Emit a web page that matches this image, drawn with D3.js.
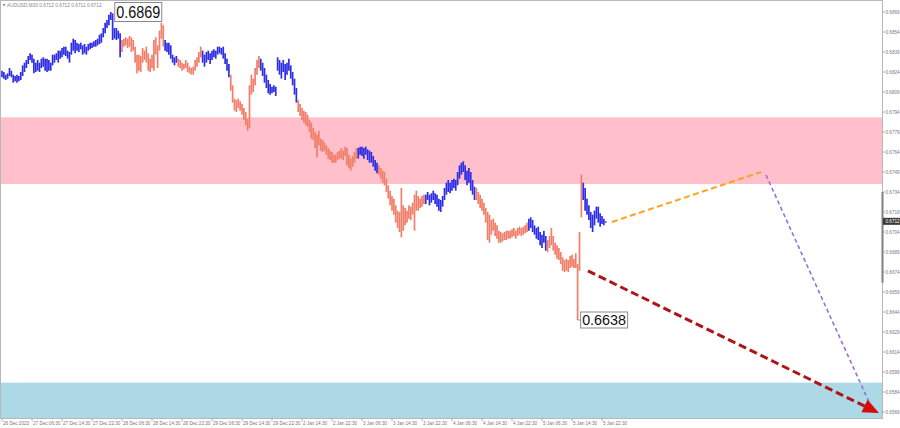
<!DOCTYPE html>
<html><head><meta charset="utf-8">
<script src="https://cdn.jsdelivr.net/npm/d3@7/dist/d3.min.js"></script>
<style>body{margin:0;background:#fff}svg{display:block}</style>
</head><body><svg id="chart" width="900" height="428"></svg>
<script>
const titleText = "AUDUSD,M30  0.6712 0.6712 0.6711 0.6712";

const highs = [
0.6825,0.6824,0.6822,0.6823,0.6827,0.6825,0.6822,0.6821,0.6822,0.6821,
0.6824,0.6829,0.6831,0.6833,0.6836,0.6838,0.6837,0.6834,0.6831,0.6833,
0.6831,0.6834,0.6835,0.6834,0.6834,0.6833,0.6831,0.6837,0.6837,0.6838,
0.6840,0.6840,0.6842,0.6843,0.6843,0.6840,0.6839,0.6846,0.6849,0.6848,
0.6846,0.6845,0.6846,0.6844,0.6845,0.6843,0.6845,0.6846,0.6846,0.6847,
0.6848,0.6849,0.6852,0.6853,0.6857,0.6861,0.6863,0.6867,0.6869,0.6868,
0.6857,0.6857,0.6855,0.6853,0.6848,0.6849,0.6850,0.6849,0.6851,0.6850,
0.6848,0.6843,0.6837,0.6837,0.6836,0.6842,0.6840,0.6843,0.6838,0.6834,
0.6837,0.6848,0.6850,0.6844,0.6855,0.6861,0.6859,0.6848,0.6846,0.6846,
0.6844,0.6837,0.6835,0.6836,0.6834,0.6833,0.6831,0.6830,0.6833,0.6831,
0.6828,0.6827,0.6828,0.6833,0.6835,0.6839,0.6843,0.6840,0.6837,0.6839,
0.6840,0.6838,0.6840,0.6841,0.6840,0.6843,0.6843,0.6842,0.6843,0.6838,
0.6834,0.6830,0.6822,0.6814,0.6804,0.6803,0.6804,0.6802,0.6800,0.6797,
0.6794,0.6789,0.6814,0.6822,0.6819,0.6827,0.6833,0.6836,0.6834,0.6831,
0.6827,0.6822,0.6818,0.6815,0.6813,0.6814,0.6813,0.6835,0.6833,0.6831,
0.6833,0.6830,0.6831,0.6834,0.6829,0.6824,0.6819,0.6812,0.6803,0.6800,
0.6797,0.6795,0.6794,0.6792,0.6788,0.6786,0.6782,0.6779,0.6777,0.6780,
0.6774,0.6773,0.6771,0.6769,0.6767,0.6765,0.6764,0.6762,0.6762,0.6764,
0.6765,0.6767,0.6765,0.6768,0.6767,0.6762,0.6759,0.6761,0.6764,0.6767,
0.6767,0.6768,0.6768,0.6767,0.6768,0.6766,0.6765,0.6764,0.6761,0.6758,
0.6756,0.6754,0.6752,0.6750,0.6749,0.6744,0.6739,0.6735,0.6731,0.6729,
0.6724,0.6720,0.6719,0.6737,0.6724,0.6722,0.6720,0.6724,0.6723,0.6726,
0.6732,0.6735,0.6731,0.6729,0.6731,0.6732,0.6732,0.6734,0.6732,0.6733,
0.6735,0.6733,0.6732,0.6729,0.6728,0.6731,0.6737,0.6741,0.6743,0.6741,
0.6743,0.6744,0.6743,0.6749,0.6754,0.6756,0.6757,0.6754,0.6750,0.6752,
0.6749,0.6743,0.6738,0.6737,0.6734,0.6732,0.6729,0.6726,0.6722,0.6719,
0.6717,0.6713,0.6714,0.6711,0.6709,0.6705,0.6704,0.6703,0.6704,0.6705,
0.6705,0.6705,0.6706,0.6707,0.6705,0.6707,0.6708,0.6707,0.6708,0.6709,
0.6711,0.6714,0.6715,0.6713,0.6709,0.6707,0.6708,0.6704,0.6702,0.6705,
0.6701,0.6698,0.6701,0.6707,0.6701,0.6696,0.6694,0.6692,0.6689,0.6685,
0.6683,0.6684,0.6683,0.6686,0.6687,0.6684,0.6688,0.6680,0.6704,0.6747,
0.6741,0.6737,0.6729,0.6724,0.6719,0.6717,0.6720,0.6723,0.6723,0.6718,
0.6716,0.6714,0.6712];

const lows = [
0.6820,0.6819,0.6818,0.6819,0.6821,0.6820,0.6816,0.6817,0.6816,0.6817,
0.6818,0.6821,0.6824,0.6827,0.6830,0.6833,0.6831,0.6823,0.6824,0.6825,
0.6824,0.6827,0.6828,0.6825,0.6824,0.6825,0.6825,0.6829,0.6831,0.6833,
0.6831,0.6834,0.6835,0.6837,0.6836,0.6834,0.6831,0.6837,0.6840,0.6838,
0.6840,0.6839,0.6841,0.6837,0.6838,0.6837,0.6840,0.6841,0.6842,0.6843,
0.6843,0.6844,0.6845,0.6846,0.6850,0.6853,0.6857,0.6859,0.6863,0.6848,
0.6849,0.6848,0.6849,0.6835,0.6839,0.6843,0.6844,0.6842,0.6843,0.6839,
0.6840,0.6831,0.6823,0.6825,0.6824,0.6831,0.6833,0.6831,0.6825,0.6824,
0.6827,0.6825,0.6837,0.6827,0.6840,0.6849,0.6843,0.6840,0.6839,0.6837,
0.6834,0.6831,0.6829,0.6831,0.6828,0.6827,0.6825,0.6826,0.6827,0.6824,
0.6823,0.6822,0.6822,0.6825,0.6828,0.6831,0.6835,0.6831,0.6828,0.6831,
0.6833,0.6830,0.6833,0.6835,0.6834,0.6837,0.6838,0.6837,0.6834,0.6830,
0.6825,0.6820,0.6810,0.6801,0.6795,0.6794,0.6797,0.6795,0.6792,0.6788,
0.6784,0.6780,0.6782,0.6807,0.6809,0.6814,0.6822,0.6827,0.6825,0.6821,
0.6816,0.6812,0.6808,0.6807,0.6808,0.6809,0.6806,0.6825,0.6822,0.6819,
0.6824,0.6818,0.6822,0.6825,0.6819,0.6814,0.6807,0.6801,0.6794,0.6791,
0.6788,0.6786,0.6784,0.6783,0.6779,0.6774,0.6773,0.6767,0.6760,0.6769,
0.6765,0.6764,0.6765,0.6762,0.6759,0.6758,0.6756,0.6756,0.6756,0.6758,
0.6759,0.6759,0.6758,0.6761,0.6754,0.6752,0.6750,0.6753,0.6756,0.6759,
0.6759,0.6762,0.6761,0.6759,0.6762,0.6758,0.6756,0.6756,0.6753,0.6750,
0.6748,0.6747,0.6744,0.6741,0.6739,0.6734,0.6729,0.6724,0.6720,0.6717,
0.6711,0.6707,0.6704,0.6700,0.6705,0.6709,0.6711,0.6714,0.6713,0.6717,
0.6705,0.6720,0.6720,0.6722,0.6723,0.6725,0.6725,0.6728,0.6724,0.6726,
0.6728,0.6725,0.6723,0.6720,0.6719,0.6723,0.6728,0.6732,0.6734,0.6733,
0.6735,0.6737,0.6735,0.6739,0.6744,0.6747,0.6749,0.6743,0.6739,0.6741,
0.6735,0.6732,0.6728,0.6728,0.6725,0.6722,0.6720,0.6717,0.6711,0.6698,
0.6696,0.6702,0.6705,0.6701,0.6699,0.6696,0.6696,0.6697,0.6698,0.6698,
0.6699,0.6699,0.6700,0.6701,0.6699,0.6701,0.6702,0.6701,0.6702,0.6703,
0.6704,0.6705,0.6707,0.6704,0.6702,0.6699,0.6698,0.6694,0.6692,0.6696,
0.6690,0.6689,0.6692,0.6694,0.6690,0.6687,0.6684,0.6683,0.6680,0.6675,
0.6674,0.6675,0.6674,0.6677,0.6678,0.6677,0.6677,0.6638,0.6675,0.6715,
0.6728,0.6720,0.6717,0.6713,0.6707,0.6704,0.6709,0.6714,0.6711,0.6708,
0.6710,0.6709,0.6711];

// wave colouring: [first bar, last bar, direction]
const waveSegments = [
  [0,63,"up"],[64,86,"down"],[87,93,"up"],[94,106,"down"],[107,121,"up"],
  [122,137,"down"],[138,157,"up"],[158,189,"down"],[190,200,"up"],[201,225,"down"],
  [226,252,"up"],[253,280,"down"],[281,290,"up"],[291,309,"down"],[310,322,"up"]
];

const xLabels = ["26 Dec 2023","27 Dec 06:30","27 Dec 14:30","27 Dec 22:30","28 Dec 06:30",
  "28 Dec 14:30","28 Dec 22:30","29 Dec 06:30","29 Dec 14:30","29 Dec 22:30",
  "2 Jan 14:30","2 Jan 22:30","3 Jan 06:30","3 Jan 14:30","3 Jan 22:30",
  "4 Jan 06:30","4 Jan 14:30","4 Jan 22:30","5 Jan 06:30","5 Jan 14:30","5 Jan 22:30"];
const xLabelBars = [0,16,32,48,64,80,96,112,128,144,160,176,192,208,224,240,256,272,288,304,320];

const yTicks = [0.6869,0.6854,0.6839,0.6824,0.6809,0.6794,0.6779,0.6764,0.6749,0.6734,0.6719,
  0.6704,0.6689,0.6674,0.6659,0.6644,0.6629,0.6614,0.6599,0.6584,0.6569];

const resistanceZone = [0.6740, 0.6790];
const supportZone = [0.6550, 0.6591];
const lastPrice = 0.6712;
const extremes = [
  {bar:58, price:0.6869, label:"0.6869"},
  {bar:307, price:0.6638, label:"0.6638"}
];
// forecast lines: [bar, price] start and end
const forecastLines = [
  {name:"orange", from:[325.3,0.67115], to:[404.8,0.6749]},
  {name:"purple", from:[407.5,0.67467], to:[462.4,0.65765]},
  {name:"red",    from:[312.5,0.66748], to:[467.7,0.65682]}
];

const svg = d3.select("#chart");
const plotRight = 882.5, plotBottom = 418.5;

const x = d3.scaleLinear().domain([0, 322]).range([2, 605.75]);
const y = d3.scaleLinear().domain([0.6569, 0.6869]).range([412, 12]);

const fontAxis = "'Liberation Sans', Arial, sans-serif";

const defs = svg.append("defs");
defs.append("clipPath").attr("id","plot").append("rect")
  .attr("x",0).attr("y",0).attr("width",plotRight).attr("height",plotBottom);

const plot = svg.append("g").attr("clip-path","url(#plot)");

// zones
plot.append("rect").attr("x",0).attr("width",plotRight)
  .attr("y", y(resistanceZone[1])).attr("height", y(resistanceZone[0]) - y(resistanceZone[1]))
  .attr("fill","#ffc0cb");
plot.append("rect").attr("x",0).attr("width",plotRight)
  .attr("y", y(supportZone[1])).attr("height", y(supportZone[0]) - y(supportZone[1]))
  .attr("fill","#add8e6");

// bars
const colorOf = i => {
  const s = waveSegments.find(seg => i >= seg[0] && i <= seg[1]);
  return s && s[2] === "down" ? "#f27d68" : "#2d2de6";
};
plot.append("g").selectAll("line").data(highs).join("line")
  .attr("x1",(d,i)=>x(i)).attr("x2",(d,i)=>x(i))
  .attr("y1",(d)=>y(d)).attr("y2",(d,i)=>Math.max(y(lows[i]), y(d)+1))
  .attr("stroke",(d,i)=>colorOf(i)).attr("stroke-width",1.7);

// forecast lines
const fStyle = {
  orange:{stroke:"#ffa01c", w:2, dash:"6,3.5"},
  purple:{stroke:"#9a6ee0", w:1.6, dash:"4,3"},
  red:{stroke:"#b01515", w:3, dash:"8,4"}
};
forecastLines.forEach(f => {
  const st = fStyle[f.name];
  plot.append("line")
    .attr("x1", x(f.from[0])).attr("y1", y(f.from[1]))
    .attr("x2", x(f.to[0])).attr("y2", y(f.to[1]))
    .attr("stroke", st.stroke).attr("stroke-width", st.w).attr("stroke-dasharray", st.dash);
});
// red arrowhead
(function(){
  const f = forecastLines.find(d=>d.name==="red");
  const x2 = x(f.to[0]), y2 = y(f.to[1]);
  const ang = Math.atan2(y2 - y(f.from[1]), x2 - x(f.from[0]));
  svg.append("path").attr("d","M0,0 L-16,-7 L-16,7 Z")
    .attr("transform",`translate(${x2},${y2}) rotate(${ang*180/Math.PI})`)
    .attr("fill","#d40c0c");
})();

// frame and axes
svg.append("rect").attr("x",0.5).attr("y",0.5).attr("width",plotRight-0.5).attr("height",plotBottom-0.5)
  .attr("fill","none").attr("stroke","#b8b8b8").attr("stroke-width",1);
svg.append("line").attr("x1",plotRight).attr("x2",plotRight).attr("y1", y(0.6734)).attr("y2", y(0.6666))
  .attr("stroke","#808080").attr("stroke-width",2);

const yAxisG = svg.append("g");
yTicks.forEach(t => {
  yAxisG.append("line").attr("x1",plotRight).attr("x2",plotRight+2.5).attr("y1",y(t)).attr("y2",y(t))
    .attr("stroke","#999").attr("stroke-width",0.8);
  yAxisG.append("text").attr("x",plotRight+3).attr("y",y(t)).attr("dy","0.35em")
    .attr("font-family",fontAxis).attr("font-size",4.6).attr("fill","#777").text(t.toFixed(4));
});
// current price box
yAxisG.append("rect").attr("x",plotRight+0.5).attr("y",y(lastPrice)-3.5).attr("width",17).attr("height",7)
  .attr("fill","#3a3a3a");
yAxisG.append("text").attr("x",plotRight+3).attr("y",y(lastPrice)).attr("dy","0.35em")
  .attr("font-family",fontAxis).attr("font-size",4.6).attr("fill","#fff").text(lastPrice.toFixed(4));

const xAxisG = svg.append("g");
xLabelBars.forEach((b,k) => {
  xAxisG.append("line").attr("x1",x(b)).attr("x2",x(b)).attr("y1",plotBottom).attr("y2",plotBottom+2.5)
    .attr("stroke","#999").attr("stroke-width",0.8);
  xAxisG.append("text").attr("x",x(b)+1).attr("y",plotBottom+4.8).attr("dy","0.35em")
    .attr("font-family",fontAxis).attr("font-size",4.6).attr("fill","#777").text(xLabels[k]);
});

// title
svg.append("path").attr("d","M2.5,4 L5.5,4 L4,6.5 Z").attr("fill","#888");
svg.append("text").attr("x",7).attr("y",5.2).attr("dy","0.35em")
  .attr("font-family",fontAxis).attr("font-size",4.8).attr("fill","#888").text(titleText);

// extreme labels
extremes.forEach((e,k) => {
  const bx = x(e.bar) + (k===0 ? 4 : 3);
  const by = y(e.price);
  const hgt = k===0 ? 19 : 16;
  const fs = k===0 ? 16 : 14;
  if (k===1) svg.append("line").attr("x1",x(e.bar)).attr("x2",bx).attr("y1",by).attr("y2",by)
    .attr("stroke","#999").attr("stroke-width",1);
  svg.append("rect").attr("x",bx).attr("y",by-hgt/2).attr("width",47).attr("height",hgt)
    .attr("fill","#fff").attr("stroke","#8a8a8a").attr("stroke-width",1);
  svg.append("text").attr("x",bx+1.5).attr("y",by).attr("dy","0.36em")
    .attr("font-family",fontAxis).attr("font-size",fs).attr("fill","#111")
    .attr("textLength",44).attr("lengthAdjust","spacingAndGlyphs").text(e.label);
});
</script></body></html>
